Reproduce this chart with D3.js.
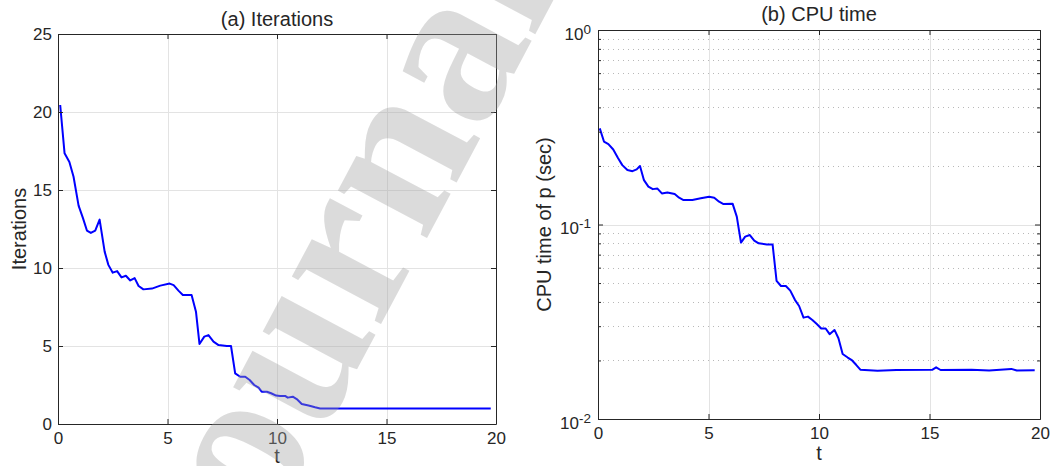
<!DOCTYPE html>
<html>
<head>
<meta charset="utf-8">
<script src="https://cdn.jsdelivr.net/npm/d3@7"></script>
<style>
  body { margin: 0; background: #fff; }
  text { font-family: "Liberation Sans", Arial, sans-serif; fill: #262626; }
</style>
</head>
<body>
<div id="chart"></div>
<script>

// data
var tIter = [0.1, 0.3, 0.52, 0.71, 0.94, 1.14, 1.32, 1.5, 1.7, 1.9, 2.13, 2.3, 2.5, 2.7, 2.9,
  3.1, 3.3, 3.5, 3.68, 3.9, 4.29, 4.67, 5.1, 5.28, 5.5, 5.7, 6.1, 6.3, 6.46, 6.68,
  6.87, 7.1, 7.33, 7.71, 7.9, 8.09, 8.32, 8.55, 8.75, 8.96, 9.16, 9.3, 9.54, 9.73, 9.96,
  10.14, 10.37, 10.49, 10.72, 10.9, 11.13, 11.44, 11.74, 11.97, 19.76];
var iterations = [20.45, 17.35, 16.8, 15.85, 14.0, 13.2, 12.4, 12.25, 12.4, 13.1, 11.05, 10.2, 9.7, 9.8, 9.4,
  9.5, 9.2, 9.35, 8.85, 8.63, 8.68, 8.87, 9.0, 8.9, 8.55, 8.27, 8.27, 7.2, 5.13, 5.6,
  5.7, 5.28, 5.06, 5.0, 5.0, 3.25, 3.03, 3.03, 2.82, 2.5, 2.33, 2.07, 2.07, 1.97, 1.82,
  1.8, 1.8, 1.69, 1.75, 1.6, 1.28, 1.18, 1.07, 1.0, 1.0];

var tCpu = [0.08, 0.27, 0.47, 0.69, 0.91, 1.1, 1.33, 1.56, 1.75, 1.9, 2.08, 2.28, 2.48, 2.69, 2.89,
  3.14, 3.47, 3.67, 3.87, 4.27, 4.65, 5.03, 5.26, 5.48, 5.68, 6.09, 6.28, 6.47, 6.66, 6.87,
  7.07, 7.27, 7.64, 7.9, 8.08, 8.28, 8.5, 8.7, 8.91, 9.1, 9.3, 9.5, 9.7, 9.9, 10.1,
  10.3, 10.48, 10.7, 10.88, 11.07, 11.3, 11.5, 11.68, 11.87, 12.65, 13.5, 15.12, 15.3, 15.5, 16.9,
  17.7, 18.2, 18.7, 18.95, 19.76];
var cpuTime = [0.312, 0.267, 0.259, 0.243, 0.219, 0.202, 0.1906, 0.188, 0.192, 0.2, 0.169, 0.1565, 0.152, 0.153, 0.1445,
  0.146, 0.1435, 0.1374, 0.1336, 0.1336, 0.1363, 0.139, 0.1374, 0.131, 0.1274, 0.128, 0.1097, 0.0807, 0.0866, 0.0883,
  0.0826, 0.080, 0.079, 0.079, 0.0513, 0.0483, 0.0483, 0.0457, 0.041, 0.0381, 0.0332, 0.0336, 0.0323, 0.0308, 0.0292,
  0.0292, 0.0273, 0.0287, 0.026, 0.0216, 0.0207, 0.020, 0.019, 0.01794, 0.0177, 0.01785, 0.0179, 0.01844, 0.01786, 0.0179,
  0.01775, 0.0179, 0.0181, 0.01775, 0.0178];

// tick labels
var xTicks = [0, 5, 10, 15, 20];
var iterTicks = [0, 5, 10, 15, 20, 25];
var cpuTicks = [0.01, 0.1, 1];
var cpuExponents = ["-2", "-1", "0"];
var cpuMinor = [0.02, 0.03, 0.04, 0.05, 0.06, 0.07, 0.08, 0.09, 0.2, 0.3, 0.4, 0.5, 0.6, 0.7, 0.8, 0.9];
var titles = ["(a) Iterations", "(b) CPU time"];
var yLabels = ["Iterations", "CPU time of p (sec)"];

var svgWidth = 1062;
var svgHeight = 466;

var svg = d3.select("#chart")
  .append("svg")
  .attr("width", svgWidth)
  .attr("height", svgHeight);

var axisColor = "#262626";
var gridColor = "#e3e3e3";
var lineColor = "#0000ff";

// panel boxes
var panelA = { left: 58, right: 496, top: 34, bottom: 424 };
var panelB = { left: 598, right: 1040, top: 30, bottom: 419 };

// ---------- panel (a) ----------
var xA = d3.scaleLinear().domain([0, 20]).range([panelA.left, panelA.right]);
var yA = d3.scaleLinear().domain([0, 25]).range([panelA.bottom, panelA.top]);

var gA = svg.append("g");

// grid
gA.selectAll(".gx").data(xTicks.slice(1, -1)).enter().append("line")
  .attr("x1", d => Math.round(xA(d)) + 0.5).attr("x2", d => Math.round(xA(d)) + 0.5)
  .attr("y1", panelA.top).attr("y2", panelA.bottom)
  .attr("stroke", gridColor);
gA.selectAll(".gy").data(iterTicks.slice(1, -1)).enter().append("line")
  .attr("x1", panelA.left).attr("x2", panelA.right)
  .attr("y1", d => Math.round(yA(d)) + 0.5).attr("y2", d => Math.round(yA(d)) + 0.5)
  .attr("stroke", gridColor);

var lineA = d3.line().x((d, i) => xA(tIter[i])).y(d => yA(d));
gA.append("path")
  .datum(iterations)
  .attr("d", lineA)
  .attr("fill", "none")
  .attr("stroke", lineColor)
  .attr("stroke-width", 2)
  .attr("stroke-linejoin", "round");

function styleAxis(g) {
  g.selectAll("path, line").attr("stroke", axisColor);
  g.selectAll("text").style("font-size", "17px").attr("fill", axisColor);
}

gA.append("g").attr("transform", `translate(0,${panelA.bottom})`)
  .call(d3.axisBottom(xA).tickValues(xTicks).tickSizeInner(-5).tickSizeOuter(0).tickPadding(8))
  .call(styleAxis);
gA.append("g").attr("transform", `translate(0,${panelA.top})`)
  .call(d3.axisTop(xA).tickValues(xTicks).tickFormat("").tickSizeInner(-5).tickSizeOuter(0))
  .call(styleAxis);
gA.append("g").attr("transform", `translate(${panelA.left},0)`)
  .call(d3.axisLeft(yA).tickValues(iterTicks).tickSizeInner(-5).tickSizeOuter(0).tickPadding(6))
  .call(styleAxis);
gA.append("g").attr("transform", `translate(${panelA.right},0)`)
  .call(d3.axisRight(yA).tickValues(iterTicks).tickFormat("").tickSizeInner(-5).tickSizeOuter(0))
  .call(styleAxis);

gA.append("text")
  .attr("x", (panelA.left + panelA.right) / 2).attr("y", panelA.top - 8)
  .attr("text-anchor", "middle").style("font-size", "20px")
  .text(titles[0]);
gA.append("text")
  .attr("x", (panelA.left + panelA.right) / 2).attr("y", 463)
  .attr("text-anchor", "middle").style("font-size", "20px")
  .text("t");
gA.append("text")
  .attr("transform", `translate(26,${(panelA.top + panelA.bottom) / 2}) rotate(-90)`)
  .attr("text-anchor", "middle").style("font-size", "20px")
  .text(yLabels[0]);

// ---------- panel (b) ----------
var xB = d3.scaleLinear().domain([0, 20]).range([panelB.left, panelB.right]);
var yB = d3.scaleLog().domain([0.01, 1]).range([panelB.bottom, panelB.top]);

var gB = svg.append("g");

gB.selectAll(".gm").data(cpuMinor).enter().append("line")
  .attr("x1", panelB.left).attr("x2", panelB.right)
  .attr("y1", d => Math.round(yB(d)) + 0.5).attr("y2", d => Math.round(yB(d)) + 0.5)
  .attr("stroke", "#b8b8b8")
  .attr("stroke-dasharray", "1,4");
gB.selectAll(".gx").data(xTicks.slice(1, -1)).enter().append("line")
  .attr("x1", d => Math.round(xB(d)) + 0.5).attr("x2", d => Math.round(xB(d)) + 0.5)
  .attr("y1", panelB.top).attr("y2", panelB.bottom)
  .attr("stroke", gridColor);
gB.selectAll(".gy").data(cpuTicks.slice(1, -1)).enter().append("line")
  .attr("x1", panelB.left).attr("x2", panelB.right)
  .attr("y1", d => Math.round(yB(d)) + 0.5).attr("y2", d => Math.round(yB(d)) + 0.5)
  .attr("stroke", gridColor);

var lineB = d3.line().x((d, i) => xB(tCpu[i])).y(d => yB(d));
gB.append("path")
  .datum(cpuTime)
  .attr("d", lineB)
  .attr("fill", "none")
  .attr("stroke", lineColor)
  .attr("stroke-width", 2)
  .attr("stroke-linejoin", "round");

gB.append("g").attr("transform", `translate(0,${panelB.bottom})`)
  .call(d3.axisBottom(xB).tickValues(xTicks).tickSizeInner(-5).tickSizeOuter(0).tickPadding(8))
  .call(styleAxis);
gB.append("g").attr("transform", `translate(0,${panelB.top})`)
  .call(d3.axisTop(xB).tickValues(xTicks).tickFormat("").tickSizeInner(-5).tickSizeOuter(0))
  .call(styleAxis);

// minor ticks both sides
gB.append("g").attr("transform", `translate(${panelB.left},0)`)
  .call(d3.axisLeft(yB).tickValues(cpuMinor).tickFormat("").tickSizeInner(-3).tickSizeOuter(0))
  .call(styleAxis);
gB.append("g").attr("transform", `translate(${panelB.right},0)`)
  .call(d3.axisRight(yB).tickValues(cpuMinor).tickFormat("").tickSizeInner(-3).tickSizeOuter(0))
  .call(styleAxis);

var leftB = gB.append("g").attr("transform", `translate(${panelB.left},0)`)
  .call(d3.axisLeft(yB).tickValues(cpuTicks).tickFormat("").tickSizeInner(-5).tickSizeOuter(0).tickPadding(7))
  .call(styleAxis);
gB.append("g").attr("transform", `translate(${panelB.right},0)`)
  .call(d3.axisRight(yB).tickValues(cpuTicks).tickFormat("").tickSizeInner(-5).tickSizeOuter(0))
  .call(styleAxis);

// 10^k labels
leftB.selectAll(".tick text")
  .attr("dy", "0.55em")
  .each(function(d, i) {
    var t = d3.select(this);
    t.append("tspan").text("10");
    t.append("tspan").attr("dy", "-0.45em").style("font-size", "13.5px").text(cpuExponents[i]);
  });

gB.append("text")
  .attr("x", (panelB.left + panelB.right) / 2).attr("y", panelB.top - 9)
  .attr("text-anchor", "middle").style("font-size", "20px")
  .text(titles[1]);
gB.append("text")
  .attr("x", (panelB.left + panelB.right) / 2).attr("y", 460)
  .attr("text-anchor", "middle").style("font-size", "20px")
  .text("t");
gB.append("text")
  .attr("transform", `translate(551,${(panelB.top + panelB.bottom) / 2}) rotate(-90)`)
  .attr("text-anchor", "middle").style("font-size", "20px")
  .text(yLabels[1]);

// watermark laid over the figure
svg.append("text")
  .attr("transform", "translate(250,462) rotate(-62)")
  .attr("x", -165)
  .attr("y", 51)
  .style("font-family", "'Liberation Serif', 'DejaVu Serif', serif")
  .style("font-weight", "bold")
  .style("font-size", "220px")
  .style("fill", "#a0a0a0")
  .style("opacity", 0.37)
  .text("Journal Pre-proof");

</script>
</body>
</html>
